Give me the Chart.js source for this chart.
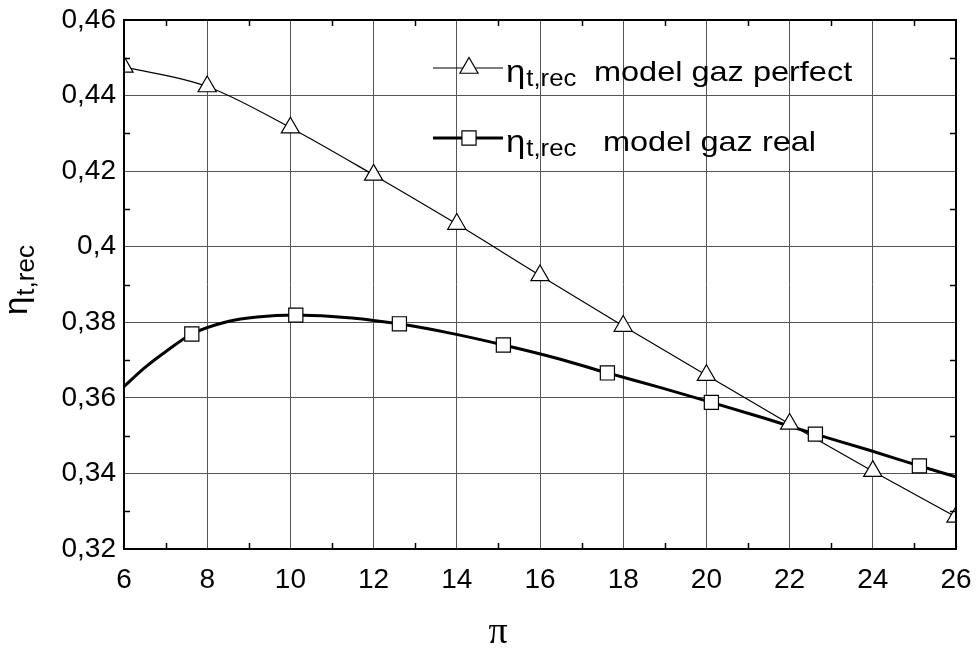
<!DOCTYPE html>
<html>
<head>
<meta charset="utf-8">
<script src="https://cdn.jsdelivr.net/npm/chart.js@4"></script>
<style>
  html, body { margin: 0; padding: 0; background: #fff; }
  #wrap { width: 976px; height: 648px; }
</style>
</head>
<body>
<div id="wrap"><canvas id="chart"></canvas></div>
<script>
// perfect gas model: markers at every even pressure ratio
const perfectX = [6, 8, 10, 12, 14, 16, 18, 20, 22, 24, 26];
const perfectY = [0.4476, 0.4424, 0.4315, 0.4190, 0.4060, 0.3924, 0.3790, 0.3660, 0.3531, 0.3406, 0.3285];

// real gas model: smooth curve + its markers
const realCurveX = [6, 6.5, 7, 7.63, 8.5, 9.2, 10.13, 11, 12, 12.62, 13.9, 15.12, 16.4, 17.62, 18.9, 20.12, 21.4, 22.62, 23.9, 25.12, 26];
const realCurveY = [0.3630, 0.3680, 0.3722, 0.3769, 0.3802, 0.3814, 0.3819, 0.3815, 0.3805, 0.3796, 0.3770, 0.3740, 0.3705, 0.3666, 0.3627, 0.3588, 0.3546, 0.3504, 0.3462, 0.3420, 0.3391];
const realMarkX = [7.63, 10.13, 12.62, 15.12, 17.62, 20.12, 22.62, 25.12];
const realMarkY = [0.3769, 0.3819, 0.3796, 0.3740, 0.3666, 0.3588, 0.3504, 0.3420];

const xMinorTicks = [7, 9, 11, 13, 15, 17, 19, 21, 23, 25];
const yMinorTicks = [0.33, 0.35, 0.37, 0.39, 0.41, 0.43, 0.45];

const legendLabels = ["model gaz perfect", "model gaz real"];

const FONT = "'Liberation Sans', Arial, sans-serif";

function toPoints(xs, ys) {
  return xs.map((x, i) => ({ x: x, y: ys[i] }));
}

// text a bit wider than the font, like the original export
function wideText(ctx, text, x, y, size, sx) {
  ctx.save();
  ctx.translate(x, y);
  ctx.scale(sx, 1);
  ctx.font = size + "px " + FONT;
  ctx.textAlign = "left";
  ctx.textBaseline = "alphabetic";
  ctx.fillText(text, 0, 0);
  const w = ctx.measureText(text).width * sx;
  ctx.restore();
  return w;
}

// "η" with the "t,rec" subscript, left aligned at x, baseline y
function drawEta(ctx, x, y, bigSize, smallSize, drop, sx) {
  const w = wideText(ctx, "η", x, y, bigSize, sx);
  wideText(ctx, "t,rec", x + w + 1, y + drop, smallSize, sx);
}

const decorPlugin = {
  id: "decor",
  afterDatasetsDraw(chart) {
    const ctx = chart.ctx;
    const area = chart.chartArea;
    const xs = chart.scales.x;
    const ys = chart.scales.y;
    ctx.save();

    // minor ticks pointing inward
    ctx.strokeStyle = "#000";
    ctx.lineWidth = 1.5;
    ctx.beginPath();
    xMinorTicks.forEach((v) => {
      const px = Math.round(xs.getPixelForValue(v)) + 0.5;
      ctx.moveTo(px, area.bottom);
      ctx.lineTo(px, area.bottom - 6);
      ctx.moveTo(px, area.top);
      ctx.lineTo(px, area.top + 6);
    });
    yMinorTicks.forEach((v) => {
      const py = Math.round(ys.getPixelForValue(v)) + 0.5;
      ctx.moveTo(area.left, py);
      ctx.lineTo(area.left + 6, py);
      ctx.moveTo(area.right, py);
      ctx.lineTo(area.right - 6, py);
    });
    ctx.stroke();

    // frame
    ctx.lineWidth = 2;
    ctx.strokeRect(area.left, area.top, area.right - area.left, area.bottom - area.top);

    // legend
    const rows = [
      { y: 68, width: 1.2, style: "triangle", radius: 10.5, label: legendLabels[0], textX: 594 },
      { y: 138, width: 3, style: "rect", radius: 10, label: legendLabels[1], textX: 603 }
    ];
    rows.forEach((r) => {
      ctx.strokeStyle = "#000";
      ctx.lineWidth = r.width;
      ctx.beginPath();
      ctx.moveTo(433, r.y);
      ctx.lineTo(503, r.y);
      ctx.stroke();
      ctx.lineWidth = 1.2;
      ctx.fillStyle = "#fff";
      Chart.helpers.drawPoint(ctx, {
        pointStyle: r.style,
        radius: r.radius,
        rotation: 0,
        borderWidth: 1.2
      }, 469, r.y);
      ctx.fillStyle = "#000";
      drawEta(ctx, 506, r.y + 14, 31, 23, 4, 1.12);
      wideText(ctx, r.label, r.textX, r.y + 13, 28, 1.16);
    });

    // x axis title
    ctx.fillStyle = "#000";
    ctx.font = "38px 'Liberation Serif', 'DejaVu Serif', serif";
    ctx.textAlign = "center";
    ctx.textBaseline = "alphabetic";
    ctx.fillText("π", 498, 643);

    // y axis title
    ctx.translate(27, 315);
    ctx.rotate(-Math.PI / 2);
    drawEta(ctx, 0, 0, 33, 26, 7, 1);
    ctx.restore();
  }
};

const ctx = document.getElementById("chart").getContext("2d");

const chart = new Chart(ctx, {
  type: "line",
  data: {
    datasets: [
      {
        label: "real markers",
        data: toPoints(realMarkX, realMarkY),
        showLine: false,
        pointStyle: "rect",
        pointRadius: 10,
        pointBackgroundColor: "#fff",
        pointBorderColor: "#000",
        pointBorderWidth: 1.2,
        clip: 0,
        order: 0
      },
      {
        label: "perfect",
        data: toPoints(perfectX, perfectY),
        borderColor: "#000",
        borderWidth: 1.2,
        cubicInterpolationMode: "monotone",
        pointStyle: "triangle",
        pointRadius: 10.5,
        pointBackgroundColor: "#fff",
        pointBorderColor: "#000",
        pointBorderWidth: 1.2,
        clip: 0,
        order: 1
      },
      {
        label: "real",
        data: toPoints(realCurveX, realCurveY),
        borderColor: "#000",
        borderWidth: 3,
        cubicInterpolationMode: "monotone",
        pointRadius: 0,
        clip: 0,
        order: 2
      }
    ]
  },
  options: {
    responsive: true,
    maintainAspectRatio: false,
    animation: false,
    devicePixelRatio: 1,
    layout: {
      autoPadding: false,
      padding: { left: 0, top: 20, right: 20, bottom: 0 }
    },
    plugins: {
      legend: { display: false },
      tooltip: { enabled: false }
    },
    scales: {
      x: {
        type: "linear",
        min: 6,
        max: 26,
        border: { display: false },
        grid: { color: "#555", lineWidth: 1, drawTicks: false },
        ticks: {
          stepSize: 2,
          color: "#000",
          padding: 14,
          maxRotation: 0,
          font: { family: FONT, size: 28 }
        },
        afterFit(scale) {
          scale.height = 99;
          scale.paddingLeft = 0;
          scale.paddingRight = 0;
        }
      },
      y: {
        type: "linear",
        min: 0.32,
        max: 0.46,
        border: { display: false },
        grid: { color: "#555", lineWidth: 1, drawTicks: false },
        ticks: {
          stepSize: 0.02,
          color: "#000",
          padding: 8,
          font: { family: FONT, size: 28 },
          callback: (v) => String(Math.round(v * 100) / 100).replace(".", ",")
        },
        afterFit(scale) {
          scale.width = 124;
          scale.paddingTop = 0;
          scale.paddingBottom = 0;
        }
      }
    }
  },
  plugins: [decorPlugin]
});
</script>
</body>
</html>
